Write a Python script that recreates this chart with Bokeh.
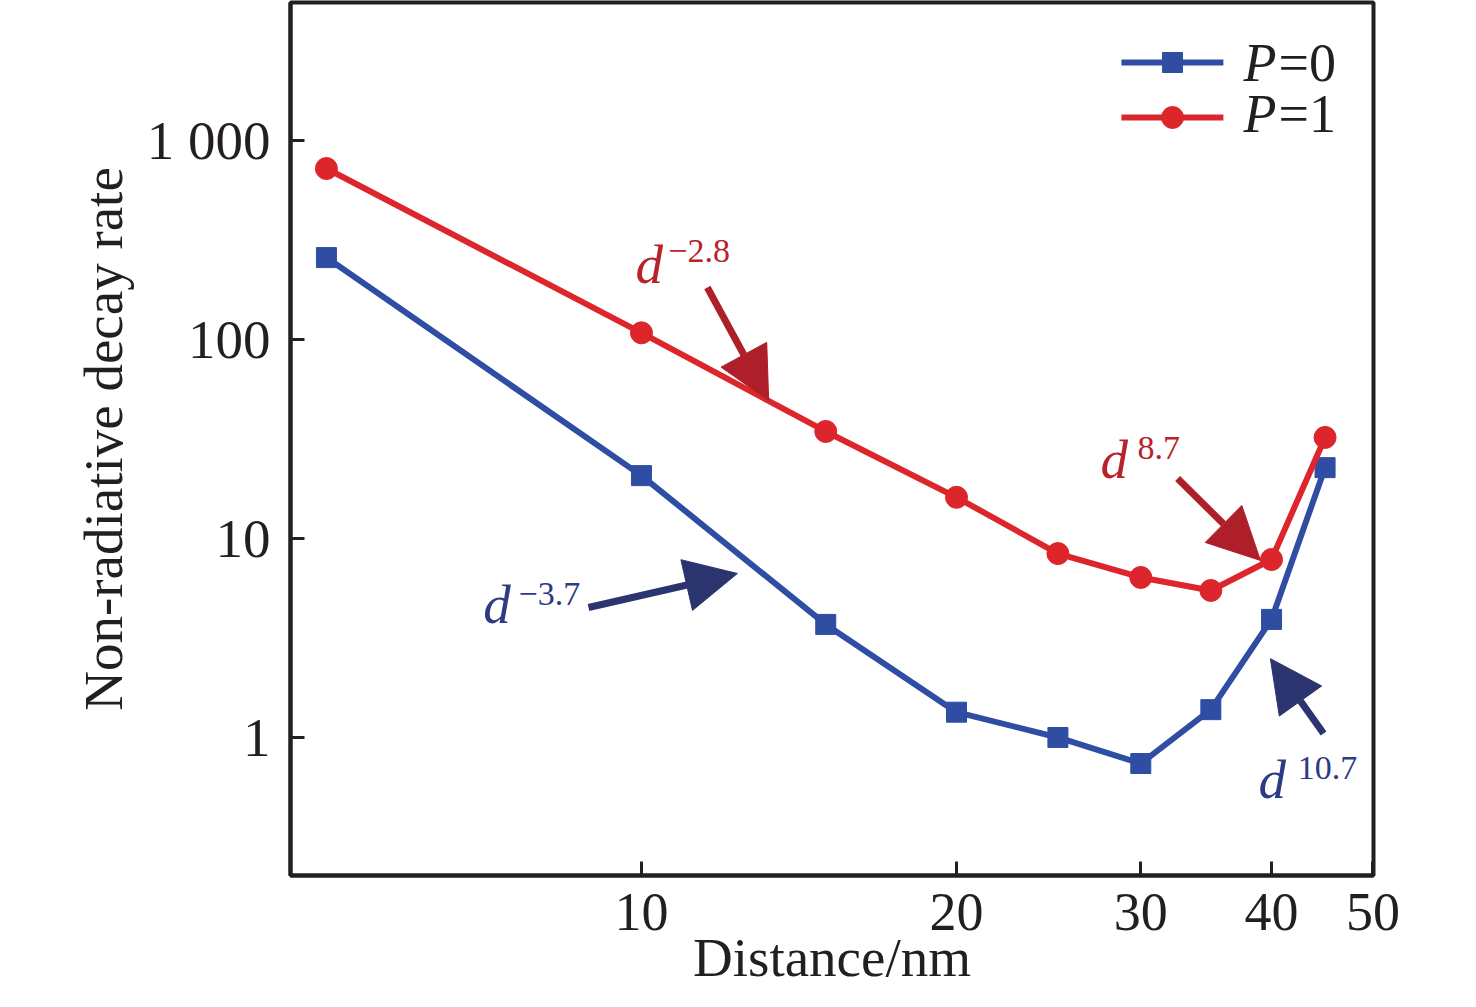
from bokeh.plotting import figure
from bokeh.models import FixedTicker, Arrow, NormalHead, CustomJSTickFormatter
from bokeh.core.properties import value
from bokeh.embed import file_html
from bokeh.resources import INLINE

# ---- data ----
distance = [5, 10, 15, 20, 25, 30, 35, 40, 45]
rate_p0 = [258, 20.7, 3.7, 1.34, 1.0, 0.74, 1.38, 3.92, 22.7]
rate_p1 = [723, 108, 34.5, 16.1, 8.4, 6.37, 5.48, 7.84, 32.2]

x_ticks = [10, 20, 30, 40, 50]
x_tick_labels = ["10", "20", "30", "40", "50"]
y_ticks = [1, 10, 100, 1000]
y_tick_labels = ["1", "10", "100", "1 000"]

x_title = "Distance/nm"
y_title = "Non-radiative decay rate"
series_names = ["P", "P"]
series_suffix = ["=0", "=1"]

# annotation exponents
ann_exponents = ["\u22122.8", "8.7", "\u22123.7", "10.7"]
ann_d_x = [9.87, 27.45, 7.06, 38.87]
ann_d_y = [197.9, 20.73, 3.87, 0.511]
ann_sup_x = [10.61, 29.79, 7.63, 42.37]
ann_sup_y = [243.8, 25.23, 4.61, 0.622]
arrow_x0 = [11.56, 32.53, 8.90, 44.85]
arrow_y0 = [182.5, 20.02, 4.50, 1.047]
arrow_x1 = [13.23, 39.04, 12.35, 39.9]
arrow_y1 = [49.4, 7.75, 6.67, 2.49]

BLUE = "#2F4EA3"
RED = "#DC262C"
ARROW_RED = "#AF1F2A"
ARROW_BLUE = "#2C3470"
TEXT_RED = "#B8222B"
TEXT_BLUE = "#2D3A84"
ann_text_colors = [TEXT_RED, TEXT_RED, TEXT_BLUE, TEXT_BLUE]
ann_arrow_colors = [ARROW_RED, ARROW_RED, ARROW_BLUE, ARROW_BLUE]

FONT = "Liberation Serif"
INK = "#231F20"

p = figure(width=1460, height=991, x_axis_type="log", y_axis_type="log",
           x_range=(4.62, 50.06), y_range=(0.2025, 4937),
           output_backend="svg", toolbar_location=None,
           min_border_left=290, min_border_right=87,
           min_border_top=2, min_border_bottom=116)
p.grid.visible = False
p.background_fill_color = "white"
p.border_fill_color = "white"
p.outline_line_color = INK
p.outline_line_width = 4

p.xaxis.ticker = FixedTicker(ticks=x_ticks, minor_ticks=[])
p.yaxis.ticker = FixedTicker(ticks=y_ticks, minor_ticks=[])
p.xaxis.formatter = CustomJSTickFormatter(args=dict(t=x_ticks, l=x_tick_labels),
    code="for (let i=0;i<t.length;i++){ if (Math.abs(t[i]-tick)<1e-6*t[i]) return l[i]; } return '';")
p.yaxis.formatter = CustomJSTickFormatter(args=dict(t=y_ticks, l=y_tick_labels),
    code="for (let i=0;i<t.length;i++){ if (Math.abs(t[i]-tick)<1e-6*t[i]) return l[i]; } return '';")

for ax in (p.xaxis, p.yaxis):
    ax.axis_line_color = INK
    ax.axis_line_width = 4
    ax.major_tick_line_color = INK
    ax.major_tick_line_width = 3
    ax.major_tick_in = 14
    ax.major_tick_out = 0
    ax.minor_tick_in = 0
    ax.minor_tick_out = 0
    ax.major_label_text_font = FONT
    ax.major_label_text_color = INK
    ax.axis_label_text_font = FONT
    ax.axis_label_text_font_style = "normal"
    ax.axis_label_text_color = INK

p.xaxis.major_label_text_font_size = "54px"
p.xaxis.major_label_standoff = 18
p.xaxis.axis_label = x_title
p.xaxis.axis_label_text_font_size = "55px"
p.xaxis.axis_label_standoff = -6

p.yaxis.major_label_text_font_size = "55px"
p.yaxis.major_label_standoff = 20
p.yaxis.axis_label = y_title
p.yaxis.axis_label_text_font_size = "55px"
p.yaxis.axis_label_standoff = 10

# ---- series ----
p.line(distance, rate_p0, line_color=BLUE, line_width=6)
p.scatter(distance, rate_p0, marker="square", size=20, fill_color=BLUE, line_color=BLUE)
p.line(distance, rate_p1, line_color=RED, line_width=6)
p.scatter(distance, rate_p1, marker="circle", size=22, fill_color=RED, line_color=RED)

# ---- annotations ----
for i in range(len(ann_exponents)):
    c = ann_arrow_colors[i]
    p.add_layout(Arrow(end=NormalHead(size=52, fill_color=c, line_color=c),
                       x_start=arrow_x0[i], y_start=arrow_y0[i],
                       x_end=arrow_x1[i], y_end=arrow_y1[i],
                       line_color=c, line_width=7))

p.text(x=ann_d_x, y=ann_d_y, text=["d"] * 4, text_font=value(FONT),
       text_font_style="italic", text_font_size="55px", text_color=ann_text_colors,
       text_align="left", text_baseline="alphabetic", y_offset=-16)
p.text(x=ann_sup_x, y=ann_sup_y, text=ann_exponents, text_font=value(FONT),
       text_font_size="34px", text_color=ann_text_colors,
       text_align="left", text_baseline="alphabetic", y_offset=-11)

# ---- legend (drawn manually for the italic P) ----
leg_x = [28.75, 35.98]
leg_mx = 32.17
leg_y = [2466, 1305]
leg_text_y = [2049, 1123]
leg_colors = [BLUE, RED]
leg_markers = ["square", "circle"]
leg_sizes = [20, 22]
for i in range(2):
    p.line(leg_x, [leg_y[i], leg_y[i]], line_color=leg_colors[i], line_width=6)
    p.scatter([leg_mx], [leg_y[i]], marker=leg_markers[i], size=leg_sizes[i],
              fill_color=leg_colors[i], line_color=leg_colors[i])
p.text(x=[37.61, 37.61], y=leg_text_y, text=series_names, text_font=value(FONT),
       text_font_style="italic", text_font_size="54px", text_color=INK,
       text_align="left", text_baseline="alphabetic", y_offset=-16)
p.text(x=[40.62, 40.62], y=leg_text_y, text=series_suffix, text_font=value(FONT),
       text_font_size="54px", text_color=INK,
       text_align="left", text_baseline="alphabetic", y_offset=-16)

open("out.html", "w").write(file_html(p, INLINE))
